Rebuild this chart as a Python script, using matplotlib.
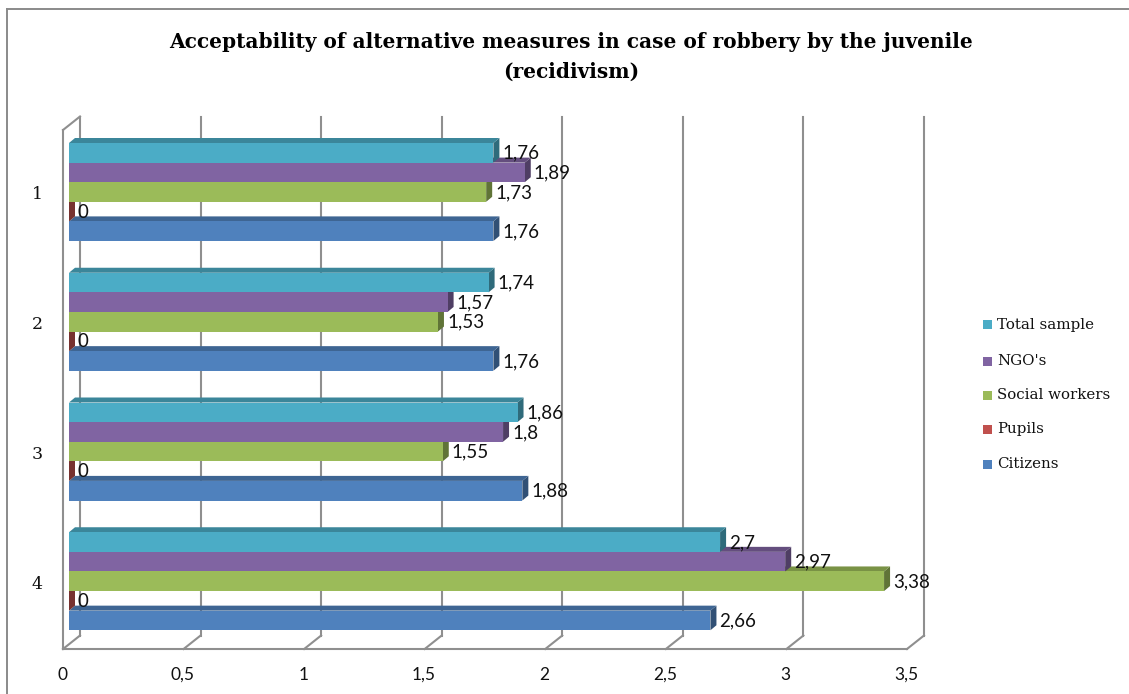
import matplotlib
matplotlib.use("Agg")
import matplotlib.pyplot as plt
from matplotlib.patches import Polygon, Rectangle
from matplotlib.lines import Line2D

# ---- data ----
categories = ["1", "2", "3", "4"]
series_names = ["Total sample", "NGO's", "Social workers", "Pupils", "Citizens"]
total_sample = [1.76, 1.74, 1.86, 2.7]
ngos = [1.89, 1.57, 1.8, 2.97]
social_workers = [1.73, 1.53, 1.55, 3.38]
pupils = [0, 0, 0, 0]
citizens = [1.76, 1.76, 1.88, 2.66]
x_ticks = [0, 0.5, 1, 1.5, 2, 2.5, 3, 3.5]

series_values = [total_sample, ngos, social_workers, pupils, citizens]
series_colors = ["#4BACC6", "#8064A2", "#9BBB59", "#C0504D", "#4F81BD"]

W, H = 1129, 694
fig = plt.figure(figsize=(W / 100, H / 100), dpi=100)
fig.patch.set_facecolor("white")

# front plane of the 3-D plot box, in pixels
ax_l, ax_r, ax_t, ax_b = 63, 907, 130, 649
ax = fig.add_axes([ax_l / W, (H - ax_b) / H, (ax_r - ax_l) / W, (ax_b - ax_t) / H])
xmax = 3.5
ax.set_xlim(0, xmax)
ax.set_ylim(len(categories), 0)
ax.axis("off")

# pixel -> data conversion factors
sx = xmax / (ax_r - ax_l)
sy = len(categories) / (ax_b - ax_t)

def fmt(v):
    return f"{v:g}".replace(".", ",")

def shade(c, f):
    r, g, b = matplotlib.colors.to_rgb(c)
    return (r * f, g * f, b * f)

grid_c = "#8f8f8f"
grid_lw = 1.5
n = len(categories)

# depth of the walls and of the bars (pixels)
wall_dx, wall_dy = 17, 13.5
bar_dx, bar_dy = 6, 5

# back wall gridlines and floor ticks
for v in x_ticks:
    ax.add_line(Line2D([v + wall_dx * sx] * 2, [-wall_dy * sy, n - wall_dy * sy],
                       color=grid_c, lw=grid_lw, zorder=1, clip_on=False))
    ax.add_line(Line2D([v, v + wall_dx * sx], [n, n - wall_dy * sy],
                       color=grid_c, lw=grid_lw, zorder=1, clip_on=False))
# floor front edge and left wall
ax.add_line(Line2D([0, xmax], [n, n], color=grid_c, lw=grid_lw, zorder=1, clip_on=False))
ax.add_line(Line2D([0, 0], [0, n], color=grid_c, lw=grid_lw, zorder=1, clip_on=False))
ax.add_line(Line2D([0, wall_dx * sx], [0, -wall_dy * sy], color=grid_c, lw=grid_lw,
                   zorder=1, clip_on=False))

# bars
bar_h = 19.6 * sy
stack_top = 13 * sy  # top of the first bar within each group
left = 6 * sx
ddx, ddy = bar_dx * sx, bar_dy * sy
z = 2
for gi in range(n):
    for k in reversed(range(len(series_names))):
        v = series_values[k][gi]
        col = series_colors[k]
        y_top = gi + stack_top + k * bar_h
        y_bot = y_top + bar_h
        x0, x1 = left, left + v
        side = Polygon([(x1, y_bot), (x1, y_top), (x1 + ddx, y_top - ddy), (x1 + ddx, y_bot - ddy)],
                       closed=True, facecolor=shade(col, 0.62), edgecolor="none", zorder=z,
                       clip_on=False)
        top = Polygon([(x0, y_top), (x1, y_top), (x1 + ddx, y_top - ddy), (x0 + ddx, y_top - ddy)],
                      closed=True, facecolor=shade(col, 0.78), edgecolor="none", zorder=z,
                      clip_on=False)
        ax.add_patch(side)
        ax.add_patch(top)
        ax.barh(y_top + bar_h / 2, v, height=bar_h, left=x0, color=col,
                linewidth=0, zorder=z + 0.5, clip_on=False)
        z += 1
        ax.text(x1 + ddx + 3 * sx, y_top + bar_h / 2 + 0.5 * sy, fmt(v), ha="left", va="center",
                fontsize=13.5, family="Lato", color="#111111", zorder=100)

# category labels
for gi, c in enumerate(categories):
    ax.text(-26 * sx, gi + 0.5, c, ha="center", va="center", fontsize=12.5,
            family="DejaVu Serif", color="#111111")

# value axis labels
for v in x_ticks:
    ax.text(v - 1 * sx, n + 26 * sy, fmt(v), ha="center", va="center", fontsize=12.5,
            family="Lato", color="#111111")

# legend
leg_y = [325, 361, 395, 429, 464]
for name, col, yy in zip(series_names, series_colors, leg_y):
    fig.patches.append(Rectangle((983 / W, (H - yy - 4.5) / H), 9 / W, 9 / H,
                                 transform=fig.transFigure, facecolor=col, edgecolor="none"))
    fig.text(997 / W, (H - yy) / H, name, ha="left", va="center", fontsize=10.8,
             family="DejaVu Serif", color="#111111")

# title
fig.text(571 / W, 1 - 42 / H, "Acceptability of alternative measures in case of robbery by the juvenile",
         ha="center", va="center", fontsize=14.5, fontweight="bold", family="DejaVu Serif")
fig.text(571 / W, 1 - 72 / H, "(recidivism)", ha="center", va="center", fontsize=14.5,
         fontweight="bold", family="DejaVu Serif")

# chart border
fig.add_artist(Line2D([6.5 / W, 6.5 / W], [0, 1 - 8.5 / H], color="#8a8a8a", lw=1.4,
                      transform=fig.transFigure))
fig.add_artist(Line2D([6.5 / W, 1], [1 - 8.5 / H, 1 - 8.5 / H], color="#8a8a8a", lw=1.4,
                      transform=fig.transFigure))

fig.savefig("out.png", dpi=100)
